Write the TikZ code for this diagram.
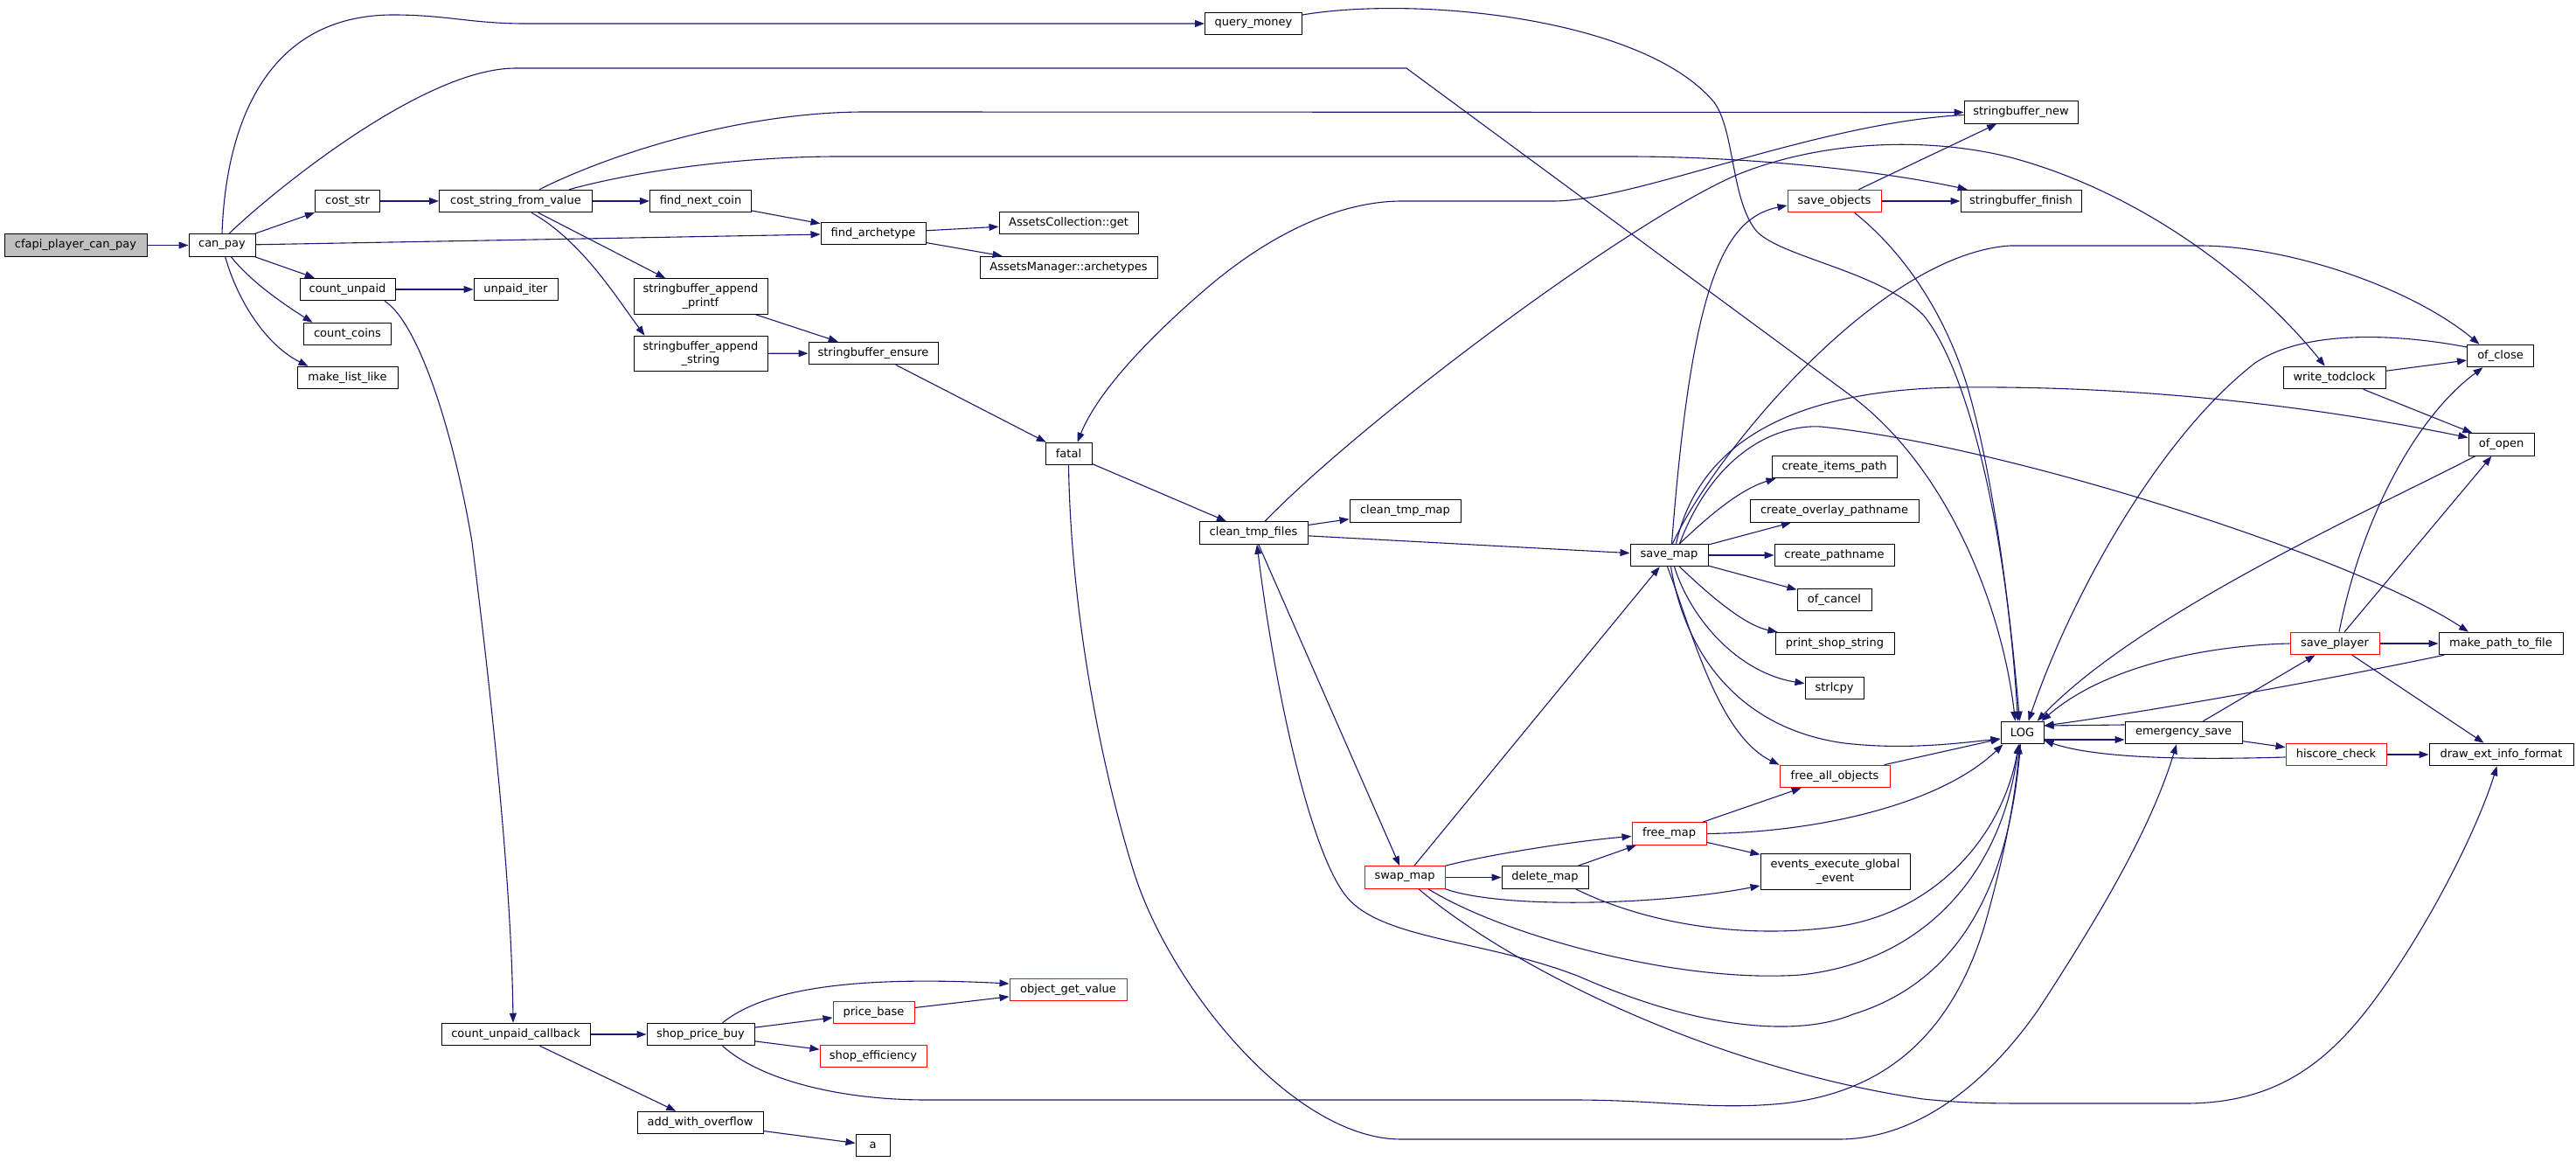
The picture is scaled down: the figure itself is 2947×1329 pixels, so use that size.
\documentclass[tikz,border=0pt]{standalone}
\usepackage{fontspec}
\setmainfont{DejaVu Sans}
\usetikzlibrary{arrows.meta}
\definecolor{edgeblue}{RGB}{25,25,112}
\definecolor{rootgray}{RGB}{191,191,191}
\newcommand\nd[6][]{\node[nbox,#1,minimum width=#5pt] (#2) at (#3,#4) {#6};}
\begin{document}
\begin{tikzpicture}[x=1pt,y=-1pt,
  nbox/.style={draw=black, fill=white, line width=1pt, inner sep=0pt, minimum height=25.5pt, font=\fontsize{13}{15.5}\selectfont, align=center},
  redbox/.style={draw=red},
  rootbox/.style={fill=rootgray},
  twoline/.style={minimum height=40.5pt},
  edge/.style={draw=edgeblue, line width=1.1pt, -{Triangle[length=11pt,width=8pt]}}]
\fill[white] (0,0) rectangle (2947,1329);
\useasboundingbox (0,0) rectangle (2947,1329);

% nodes
\nd[rootbox]{cfapi}{86.5}{280.5}{163}{cfapi\_player\_can\_pay}
\nd{canpay}{254}{280.5}{76}{can\_pay}
\nd{coststr}{397.5}{230}{74}{cost\_str}
\nd{csfv}{590}{230}{175}{cost\_string\_from\_value}
\nd{cunpaid}{397.5}{331}{109}{count\_unpaid}
\nd{unpaiditer}{590}{331}{96}{unpaid\_iter}
\nd{ccoins}{397.5}{382}{100}{count\_coins}
\nd{mklist}{397.5}{432}{115}{make\_list\_like}
\nd{qmoney}{1434}{27}{111}{query\_money}
\nd{fnextcoin}{801.5}{230}{116}{find\_next\_coin}
\nd{farch}{999}{267}{120}{find\_archetype}
\nd{acget}{1222.5}{255}{159}{AssetsCollection::get}
\nd{amarch}{1222.5}{306}{203}{AssetsManager::archetypes}
\nd[twoline]{sbprintf}{801.5}{339}{153}{stringbuffer\_append\\\_printf}
\nd[twoline]{sbstring}{801.5}{404.5}{153}{stringbuffer\_append\\\_string}
\nd{sbensure}{999}{404}{148}{stringbuffer\_ensure}
\nd{fatal}{1222.5}{519}{53}{fatal}
\nd{ctfiles}{1434}{609.5}{124}{clean\_tmp\_files}
\nd{ctmap}{1607.5}{584.5}{127}{clean\_tmp\_map}
\nd{savemap}{1909.5}{635}{89}{save\_map}
\nd[redbox]{saveobj}{2098.5}{230}{107}{save\_objects}
\nd{sbnew}{2312}{128.5}{130}{stringbuffer\_new}
\nd{sbfinish}{2312}{230}{138}{stringbuffer\_finish}
\nd{wtod}{2670.5}{432}{117}{write\_todclock}
\nd{ofclose}{2860.5}{407}{76}{of\_close}
\nd{ofopen}{2861.5}{508.5}{75}{of\_open}
\nd{citems}{2098.5}{534}{143}{create\_items\_path}
\nd{coverlay}{2098.5}{584.5}{193}{create\_overlay\_pathname}
\nd{cpath}{2098.5}{635}{137}{create\_pathname}
\nd{ofcancel}{2098.5}{686}{85}{of\_cancel}
\nd{pshop}{2099}{736}{136}{print\_shop\_string}
\nd{strlcpy}{2098.5}{787}{67}{strlcpy}
\nd[redbox]{saveplayer}{2671}{736}{102}{save\_player}
\nd{mkpath}{2861}{736}{142}{make\_path\_to\_file}
\nd{log}{2313.5}{838}{49}{LOG}
\nd{esave}{2498}{838}{134}{emergency\_save}
\nd[redbox]{hiscore}{2672.5}{863}{115}{hiscore\_check}
\nd{drawext}{2861.5}{863}{165}{draw\_ext\_info\_format}
\nd[redbox]{freeall}{2099}{888}{126}{free\_all\_objects}
\nd[redbox]{freemap}{1909.5}{953.5}{85}{free\_map}
\nd[twoline]{events}{2099.5}{997}{171}{events\_execute\_global\\\_event}
\nd[redbox]{swapmap}{1607}{1003.5}{92}{swap\_map}
\nd{delmap}{1767.5}{1003.5}{99}{delete\_map}
\nd{cucb}{590}{1183}{170}{count\_unpaid\_callback}
\nd{spbuy}{801.5}{1183}{123}{shop\_price\_buy}
\nd[redbox]{ogv}{1222}{1132}{134}{object\_get\_value}
\nd[redbox]{pbase}{999.5}{1158}{93}{price\_base}
\nd[redbox]{seff}{999}{1208}{122}{shop\_efficiency}
\nd{awo}{801}{1284}{144}{add\_with\_overflow}
\nd{na}{998.5}{1310}{39}{a}

% edges
\draw[edge] (cfapi) -- (canpay);
\draw[edge] (canpay.north) .. controls (258,150) and (300,17) .. (450,17) .. controls (510,17) and (540,27) .. (600,27) -- (qmoney.west);
\draw[edge] ([xshift=8pt]canpay.north) .. controls (300,230) and (480,78) .. (590,78) -- (1609,78) -- (2114,450) .. controls (2225,530) and (2290,690) .. ([xshift=-8pt]log.north);
\draw[edge] (canpay) -- (coststr);
\draw[edge] (canpay) -- (farch);
\draw[edge] (canpay) -- (cunpaid);
\draw[edge] (canpay) .. controls (285,320) and (320,345) .. ([xshift=-40pt]ccoins.north);
\draw[edge] (canpay) .. controls (272,345) and (305,395) .. ([xshift=-45pt]mklist.north);
\draw[edge] (coststr) -- (csfv);
\draw[edge] (csfv) -- (fnextcoin);
\draw[edge] ([xshift=27pt]csfv.north) .. controls (700,175) and (850,128) .. (990,128) -- (sbnew.west);
\draw[edge] ([xshift=61pt]csfv.north) .. controls (730,195) and (850,179) .. (960,179) -- (1860,179) .. controls (2000,179) and (2150,195) .. (sbfinish);
\draw[edge] (csfv) -- (sbprintf);
\draw[edge] ([xshift=18pt]csfv.south) .. controls (665,275) and (705,340) .. ([xshift=-64pt]sbstring.north);
\draw[edge] (fnextcoin) -- (farch);
\draw[edge] (farch) -- (acget);
\draw[edge] (farch) -- (amarch);
\draw[edge] (sbprintf) -- (sbensure);
\draw[edge] (sbstring) -- (sbensure);
\draw[edge] (sbensure) -- (fatal);
\draw[edge] (cunpaid) -- (unpaiditer);
\draw[edge] ([xshift=42.5pt]cunpaid.south) .. controls (480,370) and (520,500) .. (540,620) .. controls (560,780) and (585,1000) .. ([xshift=-3pt]cucb.north);
\draw[edge] ([yshift=10pt]qmoney.east) .. controls (1620,-5) and (1880,20) .. (1961,117) .. controls (1985,150) and (1980,230) .. (2010,265) .. controls (2040,295) and (2150,310) .. (2200,360) .. controls (2250,420) and (2295,600) .. ([xshift=-5pt]log.north);
\draw[edge] (fatal) -- (ctfiles);
\draw[edge] (fatal.south) .. controls (1225,700) and (1260,880) .. (1298,1000) .. controls (1340,1130) and (1480,1303) .. (1603,1303) -- (2103,1303) .. controls (2200,1303) and (2280,1230) .. (2333,1153) .. controls (2400,1050) and (2460,950) .. ([xshift=-8pt]esave.south);
\draw[edge] (ctfiles) -- (ctmap);
\draw[edge] (ctfiles) -- (savemap);
\draw[edge] (ctfiles) -- (swapmap);
\draw[edge] ([xshift=13pt]ctfiles.north) .. controls (1560,480) and (1860,255) .. (1987,200) .. controls (2080,162) and (2200,155) .. (2300,180) .. controls (2450,220) and (2580,320) .. (wtod);
\draw[edge] ([yshift=-3pt]sbnew.west) .. controls (2080,140) and (1870,230) .. (1777,230) -- (1604,230) .. controls (1530,230) and (1450,270) .. (1380,330) .. controls (1310,390) and (1255,450) .. ([xshift=10pt]fatal.north);
% save_map
\draw[edge] ([xshift=3pt]savemap.north) .. controls (1935,330) and (1970,250) .. ([yshift=-5pt]saveobj.west);
\draw[edge] (saveobj) -- (sbnew);
\draw[edge] (saveobj) -- (sbfinish);
\draw[edge] ([xshift=23pt]saveobj.south) .. controls (2180,290) and (2225,360) .. (2250,440) .. controls (2280,540) and (2300,700) .. ([xshift=-3pt]log.north);
\draw[edge] ([xshift=12pt]savemap.north) .. controls (1955,590) and (1990,560) .. ([xshift=5pt]citems.south west);
\draw[edge] (savemap) -- (coverlay);
\draw[edge] (savemap) -- (cpath);
\draw[edge] (savemap) -- (ofcancel);
\draw[edge] ([xshift=12pt]savemap.south) .. controls (1955,680) and (1995,715) .. (pshop);
\draw[edge] ([xshift=6pt]savemap.south) .. controls (1935,710) and (1990,770) .. (strlcpy);
\draw[edge] ([xshift=2pt]savemap.south) .. controls (1930,760) and (2000,835) .. (2110,850) .. controls (2180,858) and (2240,850) .. ([yshift=-7pt]log.west);
\draw[edge] ([xshift=-2pt]savemap.south) .. controls (1935,720) and (1965,840) .. (freeall.north west);
\draw[edge] ([xshift=4pt]savemap.north) .. controls (1960,520) and (2150,290) .. (2300,281) -- (2516,281) .. controls (2620,281) and (2760,330) .. ([xshift=-24pt]ofclose.north);
\draw[edge] ([xshift=8pt]savemap.north) .. controls (1945,500) and (2060,445) .. (2242,443) .. controls (2450,441) and (2650,465) .. ([yshift=8pt]ofopen.west);
\draw[edge] ([xshift=12pt]savemap.north) .. controls (1960,520) and (2030,485) .. (2083,488) .. controls (2300,510) and (2700,640) .. ([xshift=-37pt]mkpath.north);
% right part
\draw[edge] ([yshift=9pt]esave.west) -- ([yshift=8pt]log.east);
\draw[edge] ([yshift=-8pt]log.east) -- ([yshift=-8pt]esave.west);
\draw[edge] (esave) -- (saveplayer);
\draw[edge] (esave) -- (hiscore);
\draw[edge] ([yshift=-3pt]hiscore.west) .. controls (2510,869) and (2400,868) .. ([yshift=-9pt]log.east);
\draw[edge] (hiscore) -- (drawext);
\draw[edge] ([xshift=5pt]saveplayer.north) .. controls (2700,600) and (2760,480) .. ([xshift=-20pt]ofclose.south);
\draw[edge] (saveplayer) -- (ofopen);
\draw[edge] (saveplayer) -- (mkpath);
\draw[edge] (saveplayer) -- (drawext);
\draw[edge] (saveplayer.west) .. controls (2530,738) and (2410,760) .. ([xshift=-3pt]log.north east);
\draw[edge] (wtod) -- (ofclose);
\draw[edge] (wtod) -- (ofopen);
\draw[edge] ([yshift=10pt]ofclose.west) .. controls (2750,383) and (2640,375) .. (2580,415) .. controls (2470,500) and (2370,680) .. ([xshift=7pt]log.north);
\draw[edge] ([xshift=-30pt]ofopen.south) .. controls (2720,580) and (2450,700) .. ([xshift=17pt]log.north);
\draw[edge] ([xshift=-65pt]mkpath.south) .. controls (2650,780) and (2450,815) .. ([yshift=8pt]log.east);
% lower middle
\draw[edge] ([xshift=-7pt]freeall.north east) -- ([yshift=-7pt]log.west);
\draw[edge] (freemap) -- (freeall);
\draw[edge] (freemap) -- (events);
\draw[edge] (freemap.east) .. controls (2080,952) and (2220,920) .. ([xshift=3pt]log.south west);
\draw[edge] (swapmap) -- (savemap);
\draw[edge] (swapmap) -- (delmap);
\draw[edge] (swapmap.north east) .. controls (1700,978) and (1800,962) .. ([yshift=-3pt]freemap.west);
\draw[edge] (swapmap.south east) .. controls (1720,1040) and (1900,1035) .. ([yshift=-16pt]events.west);
\draw[edge] (delmap) -- (freemap);
\draw[edge] ([xshift=35pt]delmap.south) .. controls (1880,1055) and (1990,1075) .. (2100,1060) .. controls (2210,1045) and (2290,960) .. ([xshift=-4pt]log.south);
\draw[edge] ([xshift=27pt]swapmap.south) .. controls (1720,1070) and (1920,1125) .. (2060,1115) .. controls (2200,1100) and (2290,1000) .. ([xshift=-4pt]log.south);
\draw[edge] ([xshift=16pt]swapmap.south) .. controls (1720,1100) and (1950,1220) .. (2200,1257) .. controls (2250,1262) and (2280,1262) .. (2330,1262) -- (2500,1262) .. controls (2620,1262) and (2680,1200) .. (2740,1110) .. controls (2800,1020) and (2840,930) .. ([xshift=-5pt]drawext.south);
\draw[edge] ([xshift=-2pt]log.south) .. controls (2300,1000) and (2250,1120) .. (2120,1160) .. controls (2060,1185) and (1950,1180) .. (1807,1117) .. controls (1700,1075) and (1580,1075) .. (1540,1025) .. controls (1500,975) and (1460,800) .. ([xshift=4pt]ctfiles.south);
% bottom left
\draw[edge] (cucb) -- (spbuy);
\draw[edge] (cucb) -- (awo);
\draw[edge] ([xshift=25pt]spbuy.north) .. controls (870,1135) and (960,1115) .. ([yshift=7pt]ogv.west);
\draw[edge] (spbuy) -- (pbase);
\draw[edge] (spbuy) -- (seff);
\draw[edge] (pbase) -- (ogv);
\draw[edge] (awo) -- (na);
\draw[edge] ([xshift=25pt]spbuy.south) .. controls (870,1235) and (960,1258) .. (1060,1258) -- (1800,1258) .. controls (1900,1258) and (1960,1270) .. (2040,1262) .. controls (2150,1250) and (2230,1190) .. (2270,1060) .. controls (2290,990) and (2305,920) .. ([xshift=-3pt]log.south);
\end{tikzpicture}
\end{document}
